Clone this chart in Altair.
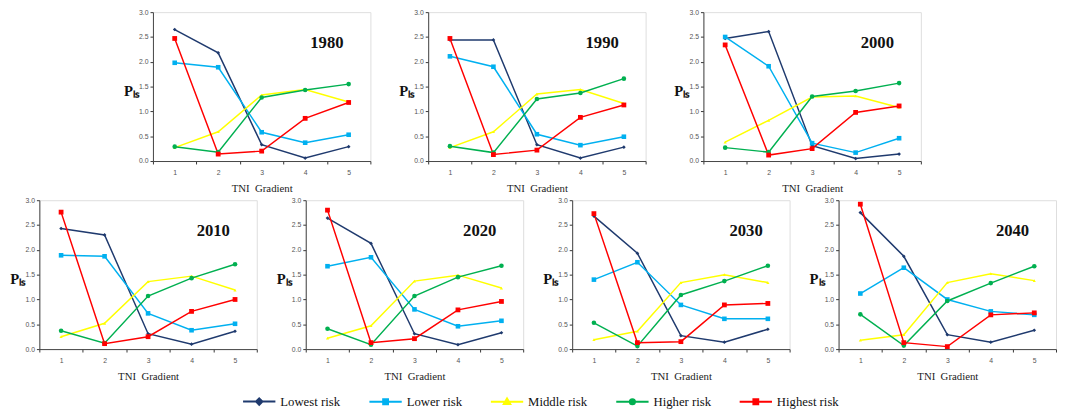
import altair as alt
import pandas as pd

years = ["1980", "1990", "2000", "2010", "2020", "2030", "2040"]
gradients = [1, 2, 3, 4, 5]
risks = ["Lowest risk", "Lower risk", "Middle risk", "Higher risk", "Highest risk"]
colors = ["#1F3A6E", "#00B0F0", "#FFFF00", "#00B050", "#FF0000"]

lowest_risk = {
    "1980": [2.65, 2.18, 0.33, 0.06, 0.29],
    "1990": [2.44, 2.44, 0.33, 0.06, 0.28],
    "2000": [2.47, 2.61, 0.31, 0.05, 0.14],
    "2010": [2.43, 2.30, 0.31, 0.10, 0.36],
    "2020": [2.64, 2.13, 0.31, 0.09, 0.33],
    "2030": [2.68, 1.93, 0.27, 0.14, 0.40],
    "2040": [2.75, 1.87, 0.29, 0.14, 0.38],
}
lower_risk = {
    "1980": [1.98, 1.89, 0.58, 0.37, 0.53],
    "1990": [2.11, 1.90, 0.54, 0.32, 0.49],
    "2000": [2.50, 1.91, 0.36, 0.17, 0.46],
    "2010": [1.89, 1.87, 0.72, 0.38, 0.51],
    "2020": [1.67, 1.85, 0.80, 0.46, 0.57],
    "2030": [1.40, 1.75, 0.89, 0.61, 0.61],
    "2040": [1.12, 1.64, 1.00, 0.76, 0.69],
}
middle_risk = {
    "1980": [0.27, 0.59, 1.33, 1.44, 1.19],
    "1990": [0.27, 0.59, 1.35, 1.44, 1.16],
    "2000": [0.38, 0.82, 1.29, 1.31, 1.08],
    "2010": [0.25, 0.52, 1.36, 1.47, 1.19],
    "2020": [0.22, 0.47, 1.37, 1.49, 1.23],
    "2030": [0.19, 0.36, 1.34, 1.50, 1.34],
    "2040": [0.18, 0.29, 1.34, 1.52, 1.38],
}
higher_risk = {
    "1980": [0.29, 0.18, 1.28, 1.43, 1.55],
    "1990": [0.30, 0.17, 1.25, 1.37, 1.66],
    "2000": [0.27, 0.18, 1.30, 1.41, 1.57],
    "2010": [0.37, 0.12, 1.07, 1.43, 1.71],
    "2020": [0.41, 0.09, 1.07, 1.45, 1.68],
    "2030": [0.53, 0.06, 1.09, 1.37, 1.68],
    "2040": [0.70, 0.07, 0.97, 1.33, 1.67],
}
highest_risk = {
    "1980": [2.47, 0.14, 0.20, 0.86, 1.18],
    "1990": [2.47, 0.13, 0.22, 0.88, 1.13],
    "2000": [2.34, 0.12, 0.25, 0.98, 1.11],
    "2010": [2.76, 0.11, 0.25, 0.76, 1.00],
    "2020": [2.80, 0.13, 0.21, 0.79, 0.96],
    "2030": [2.73, 0.13, 0.15, 0.89, 0.92],
    "2040": [2.92, 0.13, 0.05, 0.69, 0.73],
}
series = [lowest_risk, lower_risk, middle_risk, higher_risk, highest_risk]

rows = []
for y in years:
    for r, s in zip(risks, series):
        for g, v in zip(gradients, s[y]):
            rows.append({"year": y, "risk": r, "gradient": g, "value": v})
df = pd.DataFrame(rows)

marker_shapes = ["diamond", "square", "triangle-up", "circle", "square"]
marker_sizes = [14, 22, 10, 22, 24]
legend_paths = [
    "M-1,0H1M0,-0.2L0.2,0L0,0.2L-0.2,0Z",
    "M-1,0H1M-0.15,-0.15H0.15V0.15H-0.15Z",
    "M-1,0H1M0,-0.2L0.2,0.14H-0.2Z",
    "M-1,0H1M0.16,0A0.16,0.16,0,1,1,-0.16,0A0.16,0.16,0,1,1,0.16,0Z",
    "M-1,0H1M-0.15,-0.15H0.15V0.15H-0.15Z",
]

W, H = 222, 152
serif = "Liberation Serif"
sans = "Liberation Sans"

legend = alt.Legend(
    title=None, orient="none", legendX=207, legendY=380, direction="horizontal",
    columns=5, symbolSize=1089, symbolOpacity=1, symbolStrokeWidth=2,
    labelFont=serif, labelFontSize=13, labelColor="#111", columnPadding=25,
    labelOffset=4,
)
color_scale = alt.Scale(domain=risks, range=colors)
color_enc = alt.Color("risk:N", scale=color_scale, legend=legend)

x_axis = alt.Axis(
    title="TNI\u00a0\u00a0Gradient", tickBand="extent", labelAngle=0,
    labelFont=sans, labelFontSize=7, labelColor="#555", labelPadding=5,
    ticks=True, tickSize=3, tickWidth=1, tickColor="#333", domainColor="#444",
    titleFont=serif, titleFontSize=11, titleFontWeight="normal",
    titleColor="#222", titlePadding=7,
)
y_axis = alt.Axis(
    title="Pₗₛ", values=[0, 0.5, 1, 1.5, 2, 2.5, 3], format=".1f",
    labelOverlap=False, grid=False, labelFont=sans, labelFontSize=7,
    labelColor="#555", tickSize=3, tickWidth=1, tickColor="#333",
    domainColor="#444",
    titleFont=serif, titleFontSize=15, titleFontWeight="bold",
    titleColor="#111", titleAngle=0, titleAlign="center",
    titleBaseline="middle", titleX=-22, titleY=H / 2 + 4,
)
x_scale = alt.Scale(type="band", paddingInner=0, paddingOuter=0)
y_scale = alt.Scale(domain=[0, 3])


def panel(year):
    d = df[df.year == year]
    xenc = alt.X("gradient:O", bandPosition=0.5, scale=x_scale, axis=x_axis)
    yenc = alt.Y("value:Q", scale=y_scale, axis=y_axis)
    base = alt.Chart(d).encode(x=xenc, y=yenc)
    layers = [
        base.mark_point(opacity=0, filled=True, size=1).encode(
            color=color_enc,
            shape=alt.Shape("risk:N", scale=alt.Scale(domain=risks, range=legend_paths), legend=legend),
        ),
        base.mark_line(strokeWidth=1.5).encode(color=color_enc),
    ]
    for r, shp, sz in zip(risks, marker_shapes, marker_sizes):
        layers.append(
            base.transform_filter(alt.datum.risk == r)
            .mark_point(shape=shp, filled=True, size=sz, opacity=1)
            .encode(color=color_enc)
        )
    lab = pd.DataFrame({"gradient": [4], "value": [2.37], "year": [year]})
    layers.append(
        alt.Chart(lab).mark_text(
            font=serif, fontSize=17, fontWeight="bold", color="#111",
            baseline="middle", align="center",
        ).encode(
            x=alt.X("gradient:O", bandPosition=1.0, scale=x_scale, axis=x_axis),
            y=alt.Y("value:Q", scale=y_scale, axis=y_axis),
            text="year:N",
        )
    )
    return alt.layer(*layers).properties(width=W, height=H)


spacer = alt.Chart(pd.DataFrame({"a": [0]})).mark_point(opacity=0).properties(width=58, height=H)

top = alt.hconcat(spacer, *[panel(y) for y in years[:3]], spacing=26)
bottom = alt.hconcat(*[panel(y) for y in years[3:]], spacing=17)

chart = alt.vconcat(top, bottom, spacing=1).properties(
    padding={"left": 0, "top": -5, "right": 0, "bottom": 0}
).configure_view(stroke=None).configure(background="white")

chart.save("out.html", embed_options={"renderer": "svg", "actions": False})
